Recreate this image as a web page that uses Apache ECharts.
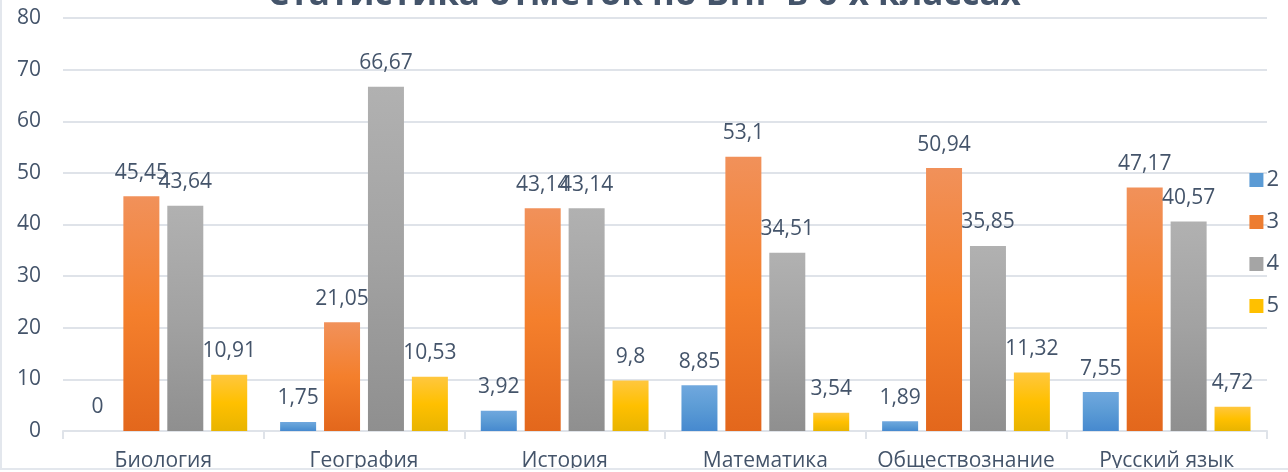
<!DOCTYPE html>
<html>
<head>
<meta charset="utf-8">
<script src="https://cdn.jsdelivr.net/npm/echarts@6/dist/echarts.min.js"></script>
<style>
  html, body { margin: 0; padding: 0; background: #fff; }
  #wrap {
    position: relative;
    width: 1288px;
    height: 470px;
    overflow: hidden;
    border-left: 2px solid #e3e7ed;
    border-bottom: 2px solid #e3e7ed;
    box-sizing: border-box;
  }
  #chart { position: absolute; left: -2px; top: 0; width: 1288px; height: 472px; }
</style>
</head>
<body>
<div id="wrap"><div id="chart"></div></div>
<script>
var titleText = "Статистика отметок по ВПР в 6-х классах";
var subjects = ["Биология", "География", "История", "Математика", "Обществознание", "Русский язык"];
var marks = ["2", "3", "4", "5"];
var mark2 = [0, 1.75, 3.92, 8.85, 1.89, 7.55];
var mark3 = [45.45, 21.05, 43.14, 53.1, 50.94, 47.17];
var mark4 = [43.64, 66.67, 43.14, 34.51, 35.85, 40.57];
var mark5 = [10.91, 10.53, 9.8, 3.54, 11.32, 4.72];
var yTicks = { min: 0, max: 80, interval: 10 };

var textColor = "#44546a";
var gridColor = "#dfe3e9";
var font = "'Open Sans', sans-serif";

function grad(top, mid, bottom) {
  return new echarts.graphic.LinearGradient(0, 0, 0, 1, [
    { offset: 0, color: top },
    { offset: 0.5, color: mid },
    { offset: 1, color: bottom }
  ]);
}

var fills = [
  grad("#70a8de", "#5b9bd5", "#4689cf"),
  grad("#f1915a", "#f47f2c", "#e3671c"),
  grad("#b1b1b1", "#a2a2a2", "#8f8f8f"),
  grad("#ffc73f", "#ffc000", "#e8b400")
];
var legendColors = ["#5b9bd5", "#ed7d31", "#a5a5a5", "#ffc000"];

function makeSeries(name, data, i) {
  return {
    name: name,
    type: "bar",
    data: data,
    barWidth: 36,
    barGap: "22%",
    itemStyle: { color: fills[i] },
    label: {
      show: true,
      position: "top",
      distance: 13,
      color: textColor,
      fontFamily: font,
      fontSize: 21,
      formatter: function (p) { return String(p.value).replace(".", ","); }
    }
  };
}

var chart = echarts.init(document.getElementById("chart"));
chart.setOption({
  animation: false,
  color: legendColors,
  title: {
    text: titleText,
    left: "center",
    top: -27,
    textStyle: { color: textColor, fontFamily: font, fontSize: 35, fontWeight: "bold" }
  },
  legend: {
    orient: "vertical",
    right: 4,
    top: 164,
    itemWidth: 14,
    itemHeight: 14,
    itemGap: 20,
    icon: "rect",
    data: marks.map(function (m, i) {
      return { name: m, itemStyle: { color: legendColors[i] } };
    }),
    textStyle: { color: textColor, fontFamily: font, fontSize: 22, padding: [0, 0, 0, -2] }
  },
  grid: { left: 63, right: 21, top: 18, bottom: 39 },
  xAxis: {
    type: "category",
    data: subjects,
    axisLine: { lineStyle: { color: gridColor, width: 2 } },
    axisTick: { show: true, interval: 0, length: 8, lineStyle: { color: gridColor, width: 2 } },
    axisLabel: { interval: 0, color: textColor, fontFamily: font, fontSize: 21, margin: 20 }
  },
  yAxis: {
    type: "value",
    min: yTicks.min,
    max: yTicks.max,
    interval: yTicks.interval,
    axisLine: { show: false },
    axisTick: { show: false },
    splitLine: { lineStyle: { color: gridColor, width: 2 } },
    axisLabel: { color: textColor, fontFamily: font, fontSize: 21, margin: 22 }
  },
  series: [
    makeSeries(marks[0], mark2, 0),
    makeSeries(marks[1], mark3, 1),
    makeSeries(marks[2], mark4, 2),
    makeSeries(marks[3], mark5, 3)
  ]
});
</script>
</body>
</html>
